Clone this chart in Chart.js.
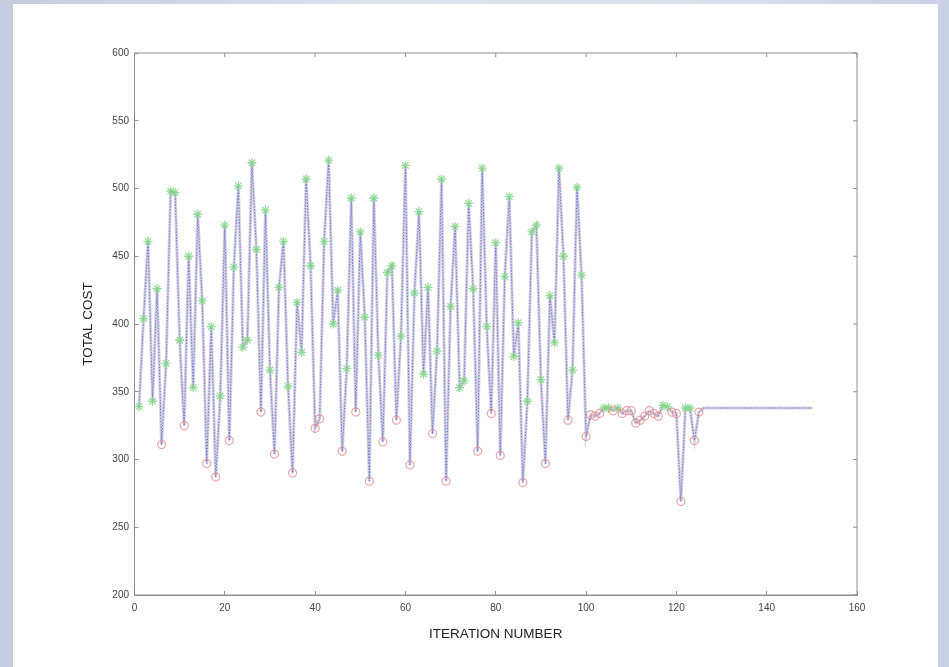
<!DOCTYPE html>
<html>
<head>
<meta charset="utf-8">
<script src="https://cdn.jsdelivr.net/npm/chart.js@4"></script>
<style>
  html, body { margin: 0; padding: 0; }
  body {
    width: 949px; height: 667px; overflow: hidden; position: relative;
    background: linear-gradient(90deg, #c6cce0 0%, #dde1ec 40%, #d9deea 80%, #c9d0e4 100%);
  }
  #panel { position: absolute; left: 13px; top: 4px; width: 925px; height: 663px; background: #fff; }
  #chart { position: absolute; left: 0; top: 0; }
</style>
</head>
<body>
<div id="panel"></div>
<canvas id="chart" width="949" height="667"></canvas>
<script>
// total cost per iteration (1..150)
const totalCost = [
  339, 404, 461, 343, 426, 311, 371, 498, 497, 388,
  325, 450, 353, 481, 417, 297, 398, 287, 347, 473,
  314, 442, 502, 383, 388, 519, 455, 335, 484, 366,
  304, 427, 461, 354, 290, 416, 379, 507, 443, 323,
  330, 461, 521, 400, 425, 306, 367, 493, 335, 468,
  405, 284, 493, 377, 313, 438, 443, 329, 391, 517,
  296, 423, 483, 363, 427, 319, 380, 507, 284, 413,
  472, 353, 358, 489, 426, 306, 515, 398, 334, 460,
  303, 435, 494, 376, 401, 283, 343, 468, 473, 359,
  297, 421, 386, 515, 450, 329, 366, 501, 436, 317,
  333, 332, 334, 338, 338, 336, 338, 334, 336, 336,
  327, 329, 332, 336, 334, 332, 340, 339, 335, 334,
  269, 338, 338, 314, 335, 338, 338, 338, 338, 338,
  338, 338, 338, 338, 338, 338, 338, 338, 338, 338,
  338, 338, 338, 338, 338, 338, 338, 338, 338, 338
];

// iterations drawn with a red 'o' (the rest up to lastMarked get a green '*')
const redIters = [6, 11, 16, 18, 21, 28, 31, 35, 40, 41, 46, 49, 52, 55, 58, 61, 66, 69,
  76, 79, 81, 86, 91, 96, 100, 101, 102, 103, 106, 108, 109, 110, 111, 112, 113, 114,
  115, 116, 119, 120, 121, 124, 125];
const lastMarked = 125;

const xTicks = [0, 20, 40, 60, 80, 100, 120, 140, 160];
const yTicks = [200, 250, 300, 350, 400, 450, 500, 550, 600];

const linePts = totalCost.map((v, i) => ({ x: i + 1, y: v }));
const redPts = linePts.filter(p => p.x <= lastMarked && redIters.includes(p.x));
const greenPts = linePts.filter(p => p.x <= lastMarked && !redIters.includes(p.x));

const axisGray = '#8e8e8e';
const labelFont = { family: 'Liberation Sans, Arial, sans-serif', size: 10 };
const titleFont = { family: 'Liberation Sans, Arial, sans-serif', size: 13.5 };

// box round the plot, with inward ticks on top and right like the original
const boxPlugin = {
  id: 'box',
  afterDraw(chart) {
    const { ctx, chartArea: a, scales } = chart;
    ctx.save();
    ctx.strokeStyle = axisGray;
    ctx.lineWidth = 1;
    ctx.strokeRect(a.left, a.top, a.right - a.left, a.bottom - a.top);
    ctx.beginPath();
    scales.x.ticks.forEach(t => {
      const px = scales.x.getPixelForValue(t.value);
      ctx.moveTo(px, a.top); ctx.lineTo(px, a.top + 4);
    });
    scales.y.ticks.forEach(t => {
      const py = scales.y.getPixelForValue(t.value);
      ctx.moveTo(a.right, py); ctx.lineTo(a.right - 4, py);
    });
    ctx.stroke();
    ctx.restore();
  }
};

new Chart(document.getElementById('chart').getContext('2d'), {
  type: 'line',
  data: {
    datasets: [
      {
        label: 'red',
        data: redPts,
        showLine: false,
        pointStyle: 'circle',
        pointRadius: 4,
        pointBorderWidth: 1.2,
        pointBorderColor: 'rgba(230,140,140,0.8)',
        pointBackgroundColor: 'rgba(0,0,0,0)',
        order: 1
      },
      {
        label: 'green',
        data: greenPts,
        showLine: false,
        pointStyle: 'star',
        pointRadius: 4.5,
        pointBorderWidth: 1.3,
        pointBorderColor: 'rgba(130,215,135,0.85)',
        pointBackgroundColor: 'rgba(0,0,0,0)',
        order: 2
      },
      {
        label: 'cost',
        data: linePts,
        borderColor: 'rgba(80,80,205,0.75)',
        borderWidth: 1,
        borderDash: [1.5, 1.5],
        pointRadius: 0,
        tension: 0,
        order: 3
      },
      {
        label: 'band',
        data: linePts,
        borderColor: 'rgba(195,195,215,0.75)',
        borderWidth: 3,
        pointRadius: 0,
        tension: 0,
        order: 4
      }
    ]
  },
  options: {
    responsive: false,
    animation: false,
    devicePixelRatio: 1,
    layout: { padding: { left: 0, top: 53, right: 92, bottom: 0 } },
    plugins: { legend: { display: false }, tooltip: { enabled: false } },
    scales: {
      x: {
        type: 'linear',
        min: 0, max: 160,
        afterBuildTicks: s => { s.ticks = xTicks.map(v => ({ value: v })); },
        afterFit: s => { s.height = 72; },
        ticks: { color: '#444', font: labelFont, padding: 11, maxRotation: 0 },
        grid: { drawOnChartArea: false, drawTicks: true, tickLength: -4, color: axisGray },
        border: { display: true, color: axisGray },
        title: { display: true, text: 'ITERATION NUMBER', color: '#222', font: titleFont, padding: { bottom: 25 } }
      },
      y: {
        type: 'linear',
        min: 200, max: 600,
        afterBuildTicks: s => { s.ticks = yTicks.map(v => ({ value: v })); },
        afterFit: s => { s.width = 134.5; },
        ticks: { color: '#444', font: labelFont, padding: 9.5 },
        grid: { drawOnChartArea: false, drawTicks: true, tickLength: -4, color: axisGray },
        border: { display: true, color: axisGray },
        title: { display: true, text: 'TOTAL COST', color: '#222', font: titleFont, padding: { top: 80 } }
      }
    }
  },
  plugins: [boxPlugin]
});
</script>
</body>
</html>
